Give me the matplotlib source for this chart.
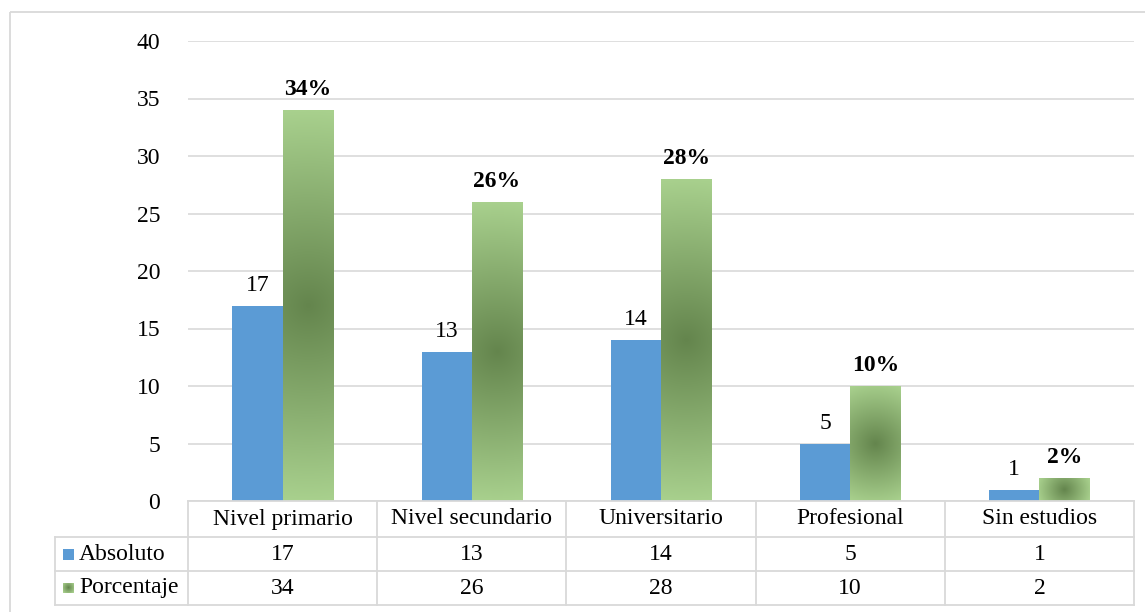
import numpy as np
import matplotlib
matplotlib.use("Agg")
import matplotlib.pyplot as plt
from matplotlib.patches import Rectangle
from matplotlib.lines import Line2D
from matplotlib.transforms import blended_transform_factory, Affine2D

# Data
categories = ["Nivel primario", "Nivel secundario", "Universitario", "Profesional", "Sin estudios"]
absoluto = [17, 13, 14, 5, 1]
porcentaje = [34, 26, 28, 10, 2]
series_names = ["Absoluto", "Porcentaje"]
y_ticks = [0, 5, 10, 15, 20, 25, 30, 35, 40]

W, H = 1145, 612
plt.rcParams["font.family"] = ["Liberation Serif", "DejaVu Serif"]
FS = 17
GRID = "#d9d9d9"
BLUE = "#5b9bd5"
G_EDGE = np.array([0xa9, 0xd1, 0x8e]) / 255
G_CENTER = np.array([0x64, 0x85, 0x4d]) / 255

fig = plt.figure(figsize=(W / 100, H / 100), dpi=100)
# pixel coordinates (origin top-left) -> figure fraction
pix = Affine2D().scale(1 / W, -1 / H).translate(0, 1) + fig.transFigure

ax = fig.add_axes([188 / W, (H - 501) / H, 946 / W, 460 / H])
ax.set_xlim(-0.5, len(categories) - 0.5)
ax.set_ylim(0, 40)
ax.set_yticks(y_ticks)
ax.set_xticks([])
ax.tick_params(axis="y", length=0, pad=20, labelsize=FS)
for s in ax.spines.values():
    s.set_visible(False)
ax.grid(axis="y", color=GRID, linewidth=1.2)
ax.set_axisbelow(True)


def radial_fill(w_px, h_px, n=160):
    """Circular gradient from the centre of a w_px x h_px box, reaching the
    light colour at the corners."""
    w_px, h_px = max(w_px, 1), max(h_px, 1)
    ny = max(int(h_px), 2)
    nx = max(int(w_px), 2)
    yy, xx = np.mgrid[-h_px / 2:h_px / 2:ny * 1j, -w_px / 2:w_px / 2:nx * 1j]
    r = np.hypot(w_px / 2, h_px / 2)
    d = np.clip(np.hypot(xx, yy) / r, 0, 1)
    return G_CENTER[None, None, :] * (1 - d[..., None]) + G_EDGE[None, None, :] * d[..., None]


bw = 0.265
x = np.arange(len(categories))
ax.bar(x - bw / 2, absoluto, width=bw, color=BLUE, zorder=2)
green_bars = ax.bar(x + bw / 2, porcentaje, width=bw, color="none", zorder=2)
fig.canvas.draw()
for b in green_bars:
    x0, y0 = b.get_x(), b.get_y()
    x1, y1 = x0 + b.get_width(), y0 + b.get_height()
    (px0, py0), (px1, py1) = ax.transData.transform([(x0, y0), (x1, y1)])
    ax.imshow(radial_fill(px1 - px0, py1 - py0), extent=[x0, x1, y0, y1],
              aspect="auto", zorder=2.5, interpolation="bilinear")
ax.set_xlim(-0.5, len(categories) - 0.5)
ax.set_ylim(0, 40)

for xi, v in zip(x, absoluto):
    ax.annotate(f"{v}", (xi - bw / 2, v), xytext=(0, 7), textcoords="offset points",
                ha="center", va="bottom", fontsize=FS)
for xi, v in zip(x, porcentaje):
    ax.annotate(f"{v}%", (xi + bw / 2, v), xytext=(0, 7), textcoords="offset points",
                ha="center", va="bottom", fontsize=FS, fontweight="bold")

# Data table beneath the axis
bt = blended_transform_factory(ax.transData, pix)
row_y = [501, 537, 571, 605]
left_px = 55
lw = 1.3
fig.add_artist(Line2D([-0.5, len(categories) - 0.5], [row_y[0], row_y[0]], transform=bt,
                      color=GRID, lw=lw))
for ry in row_y[1:]:
    fig.add_artist(Line2D([left_px, 1134], [ry, ry], transform=pix, color=GRID, lw=lw))
for b in np.arange(-0.5, len(categories), 1.0):
    fig.add_artist(Line2D([b, b], [row_y[0], row_y[-1]], transform=bt, color=GRID, lw=lw))
fig.add_artist(Line2D([left_px, left_px], [row_y[1], row_y[-1]], transform=pix, color=GRID, lw=lw))

for xi, c in zip(x, categories):
    fig.text(xi, (row_y[0] + row_y[1]) / 2, c, transform=bt, ha="center", va="center", fontsize=FS)
for row, vals in ((1, absoluto), (2, porcentaje)):
    cy = (row_y[row] + row_y[row + 1]) / 2
    for xi, v in zip(x, vals):
        fig.text(xi, cy, f"{v}", transform=bt, ha="center", va="center", fontsize=FS)

# legend keys in the table header column
for row, name in ((1, series_names[0]), (2, series_names[1])):
    cy = (row_y[row] + row_y[row + 1]) / 2
    kx0, kx1, ky0, ky1 = 63, 74, cy - 5.5, cy + 5.5
    if row == 1:
        fig.add_artist(Rectangle((kx0, ky0), kx1 - kx0, ky1 - ky0, transform=pix,
                                 facecolor=BLUE, edgecolor="none"))
    else:
        kax = fig.add_axes([kx0 / W, 1 - ky1 / H, (kx1 - kx0) / W, (ky1 - ky0) / H])
        kax.imshow(radial_fill(11, 11), aspect="auto", interpolation="bilinear")
        kax.axis("off")
    fig.text(79, cy, name, transform=pix, ha="left", va="center", fontsize=FS)

# chart frame
fig.add_artist(Rectangle((10, 12), 1150, 620, transform=pix, facecolor="none",
                         edgecolor=GRID, lw=1.3))

fig.savefig("out.png", dpi=100)
